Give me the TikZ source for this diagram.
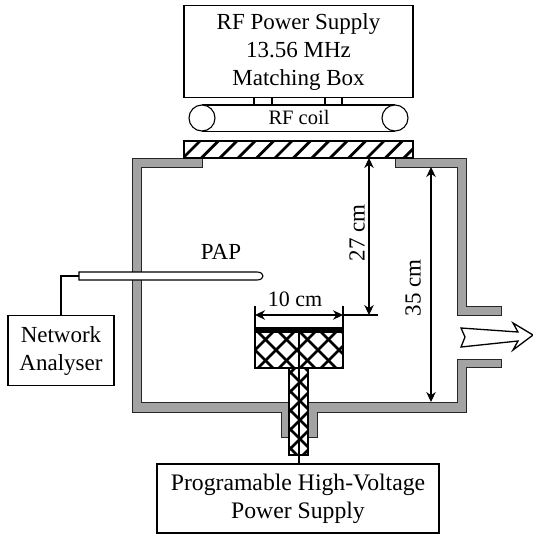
\documentclass[tikz,border=0pt]{standalone}
\usepackage{fontspec}
\setmainfont{Liberation Serif}
\usetikzlibrary{arrows.meta}
\definecolor{wallgray}{gray}{0.64}
\tikzset{
  box/.style={draw=black,line width=1.1pt,fill=white,align=center,inner sep=0pt,font=\fontsize{23}{28}\selectfont},
  wall/.style={draw=black!85,line width=1pt,fill=wallgray},
  line/.style={draw=black,line width=1.1pt},
  dim/.style={draw=black,line width=1.1pt,{Stealth[length=10pt,width=9.5pt]}-{Stealth[length=10pt,width=9.5pt]}},
  hatch/.style={draw=black,line width=2.8pt},
  lbl/.style={font=\fontsize{23}{28}\selectfont,inner sep=0pt}
}
\begin{document}
\begin{tikzpicture}[x=1pt,y=-1pt]
\useasboundingbox (0,0) rectangle (533,536);
% power supply
\node[box,minimum width=229pt,minimum height=92pt] (rf) at (298.5,51.5) {RF Power Supply\\13.56 MHz\\Matching Box};
% stubs
\draw[line] (254,97) -- (254,105) (272,97) -- (272,105) (325,97) -- (325,105) (342,97) -- (342,105);
% coil
\draw[line] (202,105) -- (395,105) (202,131.5) -- (395,131.5);
\node[draw=black,line width=1.1pt,fill=white,circle,minimum size=26pt,inner sep=0pt] (c1) at (202,118) {};
\node[draw=black,line width=1.1pt,fill=white,circle,minimum size=26pt,inner sep=0pt] (c2) at (395,118) {};
\node[lbl,font=\fontsize{20.5}{24}\selectfont] (coil) at (299,117) {RF coil};
% chamber wall
\path[wall] (202,158) -- (132,158) -- (132,412) -- (281,412) -- (281,437) -- (317,437) -- (317,412) -- (466,412)
  -- (466,367) -- (501,367) -- (501,359) -- (457,359) -- (457,402) -- (141,402) -- (141,167) -- (202,167) -- cycle;
\path[wall] (395,158) -- (466,158) -- (466,306) -- (501,306) -- (501,315) -- (457,315) -- (457,167) -- (395,167) -- cycle;
% window
\draw[line,fill=white] (184,141) rectangle (413,158);
\begin{scope}
\clip (184,141) rectangle (413,158);
\foreach \k in {0,...,13}{
  \draw[hatch] ({183+\k*18.4},158) -- ++(17,-17);
}
\end{scope}
\draw[line] (184,141) rectangle (413,158);
% holder shaft
\draw[line,fill=white] (289,368) rectangle (308,455);
\begin{scope}
\clip (289,368) rectangle (308,455);
\foreach \k in {-2,...,8}{
  \draw[hatch] (280,{362+\k*19}) -- ++(40,40);
  \draw[hatch] (320,{362+\k*19}) -- ++(-40,40);
}
\end{scope}
\draw[line] (289,368) rectangle (308,455);
% holder head
\draw[line,fill=white] (255,328) rectangle (343,368);
\begin{scope}
\clip (255,328) rectangle (343,368);
\foreach \k in {-3,...,7}{
  \draw[hatch] ({233+\k*21},328) -- ++(44,44);
  \draw[hatch] ({233+\k*21},372) -- ++(44,-44);
}
\end{scope}
\draw[line] (255,328) rectangle (343,368);
\fill[black] (255,328) rectangle (343,333);
\node[box,minimum width=282pt,minimum height=69pt,font=\fontsize{23.7}{28}\selectfont] (hv) at (298,498.5) {Programable High-Voltage\\Power Supply};
\draw[draw=black,line width=1.8pt] (299,333) -- (299,464);
% dimensions
\coordinate (hl) at (255,306);
\coordinate (hr) at (343,306);
\draw[line] (hl) -- (255,328) (hr) -- (343,328);
\draw[line] (343,315) -- (378,315);
\draw[dim] (255,315) -- (343,315);
\draw[dim] (369,158) -- (369,315);
\draw[dim] (431,167) -- (431,402);
\node[lbl,font=\fontsize{22}{24}\selectfont] (d10) at (295,299) {10 cm};
\node[lbl,rotate=90] (d27) at (357,233) {27 cm};
\node[lbl,rotate=90] (d35) at (413,288) {35 cm};
% probe
\node[lbl] (pap) at (221,252) {PAP};
\draw[line,fill=white] (79,272) -- (257,272) .. controls (261,272) and (263,274) .. (263,276) .. controls (263,278) and (261,280) .. (257,280) -- (79,280) -- cycle;
\coordinate (probe) at (79,276);
\node[box,minimum width=106pt,minimum height=70pt] (na) at (61,350.5) {Network\\Analyser};
\draw[line] (probe) -- (61,276) -- (na.north);
% outlet arrow
\draw[line,line width=1.3pt,fill=white,line join=miter] (461,328) -- (518,332) -- (513,323) -- (533,335) -- (513,350) -- (518,341) -- (461,347) -- (465,337) -- cycle;
\end{tikzpicture}
\end{document}
